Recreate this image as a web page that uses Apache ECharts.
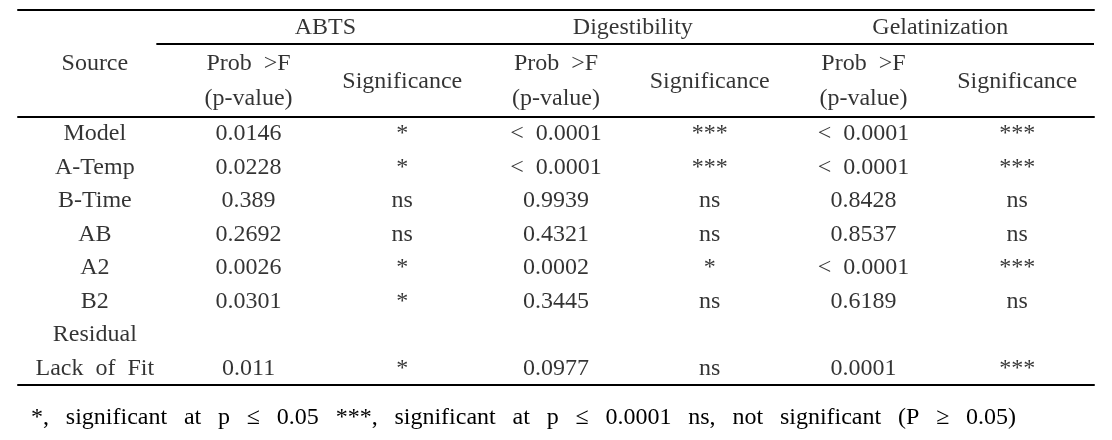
<!DOCTYPE html>
<html>
<head>
<meta charset="utf-8">
<script src="https://cdn.jsdelivr.net/npm/echarts@6/dist/echarts.min.js"></script>
<style>
  html, body { margin: 0; padding: 0; background: #fff; }
  #main { width: 1112px; height: 440px; }
</style>
</head>
<body>
<div id="main"></div>
<script>
  // 表头
  const groupNames = ['ABTS', 'Digestibility', 'Gelatinization']
  const probHeader = ['Prob  >F', '(p-value)']
  const sigHeader = 'Significance'
  const sourceHeader = 'Source'

  // 表体：行名 + 每组 p 值 / 显著性
  const sources = ['Model', 'A-Temp', 'B-Time', 'AB', 'A2', 'B2', 'Residual', 'Lack  of  Fit']
  const abtsP = ['0.0146', '0.0228', '0.389', '0.2692', '0.0026', '0.0301', '', '0.011']
  const abtsSig = ['*', '*', 'ns', 'ns', '*', '*', '', '*']
  const digP = ['<  0.0001', '<  0.0001', '0.9939', '0.4321', '0.0002', '0.3445', '', '0.0977']
  const digSig = ['***', '***', 'ns', 'ns', '*', 'ns', '', 'ns']
  const gelP = ['<  0.0001', '<  0.0001', '0.8428', '0.8537', '<  0.0001', '0.6189', '', '0.0001']
  const gelSig = ['***', '***', 'ns', 'ns', '***', 'ns', '', '***']

  const footParts = ['*,', 'significant', 'at', 'p', '≤', '0.05', '***,', 'significant', 'at', 'p', '≤', '0.0001',
    'ns,', 'not', 'significant', '(P', '≥', '0.05)']

  const FONT = "'Liberation Serif', 'Times New Roman', serif"
  const FONT_SIZE = 24

  let columns = [sources, abtsP, abtsSig, digP, digSig, gelP, gelSig]

  // 表头数据 (x: 列号, y: 表头行位置)
  let headData = [[0, 1.5, sourceHeader]]
  groupNames.forEach((name, i) => {
    let c = 1 + i * 2
    headData.push([c + 0.5, 0.5, name])
    headData.push([c, 1.5, probHeader[0]])
    headData.push([c, 2.5, probHeader[1]])
    headData.push([c + 1, 2, sigHeader])
  })

  // 表体数据
  let bodyData = []
  columns.forEach((col, c) => {
    col.forEach((text, r) => {
      if (text !== '') bodyData.push([c, r, text])
    })
  })

  let textLabel = {
    show: true,
    position: 'inside',
    color: '#000',
    fontFamily: FONT,
    fontSize: FONT_SIZE,
    formatter: p => p.data[2]
  }

  function xAxisOf (gridIndex, position) {
    return {
      type: 'value',
      gridIndex: gridIndex,
      min: -0.5,
      max: 6.5,
      position: position,
      axisLine: { show: true, onZero: false, lineStyle: { color: '#000', width: 2 } },
      axisTick: { show: false },
      axisLabel: { show: false },
      splitLine: { show: false }
    }
  }

  let myChart = echarts.init(document.getElementById('main'), null, { renderer: 'canvas' })
  myChart.setOption({
    animation: false,
    backgroundColor: '#fff',
    title: {
      text: footParts.join('\u2002\u2009'),
      left: 26,
      top: 401,
      textStyle: { color: '#000', fontFamily: FONT, fontSize: FONT_SIZE, fontWeight: 'normal' }
    },
    grid: [
      { left: 18, right: 18, top: 10, height: 107 },
      { left: 18, right: 18, top: 117, height: 268 }
    ],
    xAxis: [xAxisOf(0, 'top'), xAxisOf(1, 'top'), xAxisOf(1, 'bottom')],
    yAxis: [
      { type: 'value', gridIndex: 0, inverse: true, min: 0, max: 3, show: false },
      { type: 'category', gridIndex: 1, inverse: true, data: sources, show: false }
    ],
    series: [
      {
        type: 'scatter',
        xAxisIndex: 0,
        yAxisIndex: 0,
        symbolSize: 1,
        itemStyle: { color: 'rgba(0,0,0,0)' },
        silent: true,
        label: textLabel,
        data: headData,
        markLine: {
          silent: true,
          symbol: 'none',
          label: { show: false },
          lineStyle: { color: '#000', width: 2, type: 'solid' },
          data: [[{ coord: [0.4, 0.95] }, { coord: [6.5, 0.95] }]]
        }
      },
      {
        type: 'scatter',
        xAxisIndex: 1,
        yAxisIndex: 1,
        symbolSize: 1,
        itemStyle: { color: 'rgba(0,0,0,0)' },
        silent: true,
        label: textLabel,
        data: bodyData
      }
    ]
  })
</script>
</body>
</html>
